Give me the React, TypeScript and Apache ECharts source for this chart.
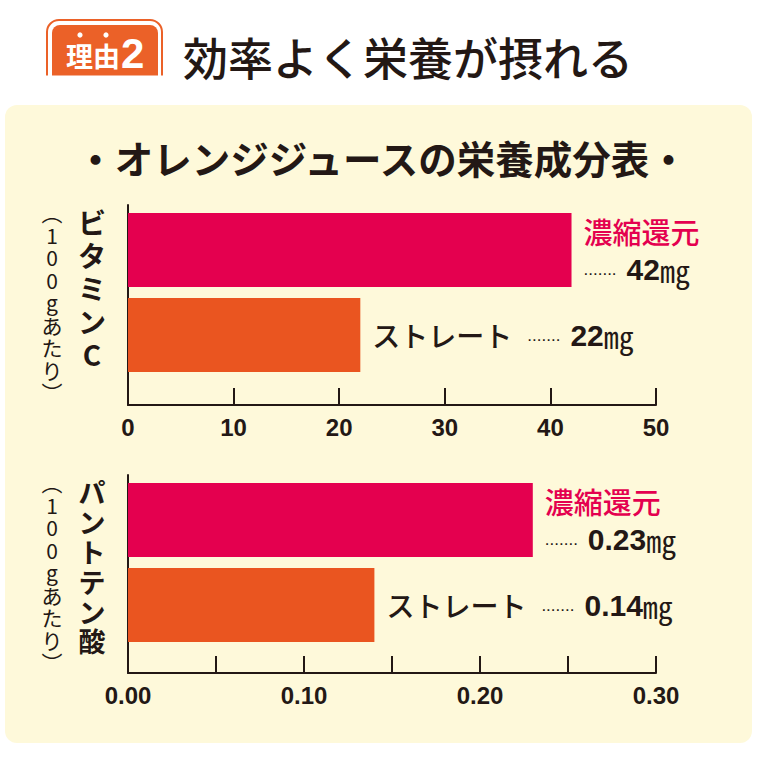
import React, { useEffect, useRef } from "react";
import * as echarts from "echarts";

// ---- data ----
const categories = ["濃縮還元", "ストレート"];
const vitaminCValues = [42, 22];
const pantothenicValues = [0.23, 0.14];
const vitaminCTickLabels = ["0", "10", "20", "30", "40", "50"];
const pantothenicTickLabels = ["0.00", "", "0.10", "", "0.20", "", "0.30"];
const unitText = "㎎";
const headerBadge = "理由";
const headerNumber = "2";
const titleText = "効率よく栄養が摂れる";
const subtitleText = "・オレンジジュースの栄養成分表・";
const chart1Name = ["ビ", "タ", "ミ", "ン", "C"];
const chart2Name = ["パ", "ン", "ト", "テ", "ン", "酸"];
const perText = ["︵", "1", "0", "0", "g", "あ", "た", "り", "︶"];

// ---- styles ----
const INK = "#231815";
const PINK = "#E4004F";
const ORANGE = "#EA5520";
const CREAM = "#FEF9DA";
const BADGE = "#EB6128";
const JP = '"Noto Sans CJK JP", "Noto Sans", sans-serif';
const NUM = '"Liberation Sans", Arial, sans-serif';

const rich = {
  n: { fontFamily: JP, fontSize: 29, fontWeight: 500, color: PINK, lineHeight: 38 },
  s: { fontFamily: JP, fontSize: 28, fontWeight: 500, color: INK, lineHeight: 38, padding: [0, 15, 0, 0] },
  d: { fontFamily: NUM, fontSize: 17, color: INK, lineHeight: 38, padding: [0, 10, 0, 0] },
  v: { fontFamily: NUM, fontSize: 30, fontWeight: "bold", color: INK, lineHeight: 38 },
  u: { fontFamily: JP, fontSize: 30, color: INK, lineHeight: 38 },
};

function barData(values: number[], fmt: (v: number) => string) {
  return values.map((v, i) => ({
    value: v,
    itemStyle: { color: i === 0 ? PINK : ORANGE },
    label: {
      show: true,
      position: "right",
      distance: 12,
      formatter:
        i === 0
          ? `{n|${categories[0]}}\n{d|.......}{v|${fmt(v)}}{u|${unitText}}`
          : `{s|${categories[1]}}{d|.......}{v|${fmt(v)}}{u|${unitText}}`,
      rich,
    },
  }));
}

function valueAxis(gridIndex: number, max: number, interval: number, labels: string[]) {
  return {
    type: "value",
    gridIndex,
    min: 0,
    max,
    interval,
    axisLine: { show: true, onZero: false, lineStyle: { color: INK, width: 2 } },
    axisTick: { show: true, inside: true, length: 17, lineStyle: { color: INK, width: 2 } },
    splitLine: { show: false },
    axisLabel: {
      margin: 10,
      color: INK,
      fontFamily: NUM,
      fontWeight: "bold",
      fontSize: 24,
      formatter: (_v: number, idx: number) => labels[idx] ?? "",
    },
  };
}

function hiddenValueAxis(gridIndex: number, max: number) {
  return { type: "value", gridIndex, min: 0, max, show: false };
}

function frameYAxis(gridIndex: number) {
  return {
    type: "category",
    gridIndex,
    data: [""],
    axisLine: { show: true, onZero: false, lineStyle: { color: INK, width: 2 } },
    axisTick: { show: false },
    axisLabel: { show: false },
    splitLine: { show: false },
  };
}

function barYAxis(gridIndex: number) {
  return { type: "category", gridIndex, data: categories, inverse: true, show: false };
}

function verticalText(chars: string[], x: number, y: number, size: number, lh: number, weight: string) {
  return {
    type: "text",
    x,
    y,
    z: 10,
    style: {
      text: chars.join("\n"),
      fontFamily: JP,
      fontSize: size,
      fontWeight: weight,
      fill: INK,
      align: "center",
      verticalAlign: "top",
      lineHeight: lh,
    },
  };
}

export default function App() {
  const ref = useRef<HTMLDivElement>(null);
  useEffect(() => {
    if (!ref.current) return;
    const chart = echarts.init(ref.current, undefined, { renderer: "svg" });
    const option = {
      animation: false,
      backgroundColor: "#ffffff",
      grid: [
        { left: 128, top: 205, width: 528, height: 200 },
        { left: 128, top: 207.5, width: 528, height: 170 },
        { left: 128, top: 475, width: 528, height: 198 },
        { left: 128, top: 477.5, width: 528, height: 170 },
      ],
      xAxis: [
        valueAxis(0, 50, 10, vitaminCTickLabels),
        hiddenValueAxis(1, 50),
        valueAxis(2, 0.3, 0.05, pantothenicTickLabels),
        hiddenValueAxis(3, 0.3),
      ],
      yAxis: [frameYAxis(0), barYAxis(1), frameYAxis(2), barYAxis(3)],
      series: [
        {
          type: "bar",
          xAxisIndex: 1,
          yAxisIndex: 1,
          barWidth: 74,
          z: 3,
          data: barData(vitaminCValues, (v) => String(v)),
        },
        {
          type: "bar",
          xAxisIndex: 3,
          yAxisIndex: 3,
          barWidth: 74,
          z: 3,
          data: barData(pantothenicValues, (v) => v.toFixed(2)),
        },
      ],
      graphic: [
        {
          type: "rect",
          z: -10,
          shape: { x: 5, y: 105, width: 747, height: 638, r: 12 },
          style: { fill: CREAM },
        },
        {
          type: "rect",
          z: 1,
          shape: { x: 47, y: 20, width: 115, height: 70, r: [12, 12, 0, 0] },
          style: { fill: "none", stroke: BADGE, lineWidth: 2 },
        },
        {
          type: "rect",
          z: 1,
          shape: { x: 52, y: 25, width: 106, height: 65, r: [8, 8, 0, 0] },
          style: { fill: BADGE },
        },
        {
          type: "rect",
          z: 2,
          shape: { x: 40, y: 75.5, width: 130, height: 25 },
          style: { fill: "#ffffff" },
        },
        { type: "circle", z: 3, shape: { cx: 80, cy: 35, r: 2.6 }, style: { fill: "#ffffff" } },
        { type: "circle", z: 3, shape: { cx: 106, cy: 35, r: 2.6 }, style: { fill: "#ffffff" } },
        {
          type: "text",
          z: 3,
          x: 66,
          y: 55,
          style: {
            text: headerBadge,
            fontFamily: JP,
            fontSize: 27,
            fontWeight: "bold",
            fill: "#ffffff",
            align: "left",
            verticalAlign: "middle",
          },
        },
        {
          type: "text",
          z: 3,
          x: 121,
          y: 53,
          style: {
            text: headerNumber,
            fontFamily: NUM,
            fontSize: 42,
            fontWeight: "bold",
            fill: "#ffffff",
            align: "left",
            verticalAlign: "middle",
          },
        },
        {
          type: "text",
          z: 3,
          x: 183,
          y: 56,
          style: {
            text: titleText,
            fontFamily: JP,
            fontSize: 45,
            fontWeight: 500,
            fill: INK,
            align: "left",
            verticalAlign: "middle",
          },
        },
        {
          type: "text",
          z: 3,
          x: 382,
          y: 157,
          style: {
            text: subtitleText,
            fontFamily: JP,
            fontSize: 38.5,
            fontWeight: "bold",
            fill: INK,
            align: "center",
            verticalAlign: "middle",
          },
        },
        verticalText(chart1Name, 92, 205, 28, 33, "bold"),
        verticalText(perText, 52, 201, 21, 22.5, "normal"),
        verticalText(chart2Name, 92, 477, 27, 29.8, "bold"),
        verticalText(perText, 52, 471, 21, 22.5, "normal"),
      ],
    };
    chart.setOption(option as any);
    return () => chart.dispose();
  }, []);
  return (
    <div
      ref={ref}
      style={{ position: "absolute", left: 0, top: 0, width: 760, height: 760 }}
    />
  );
}
